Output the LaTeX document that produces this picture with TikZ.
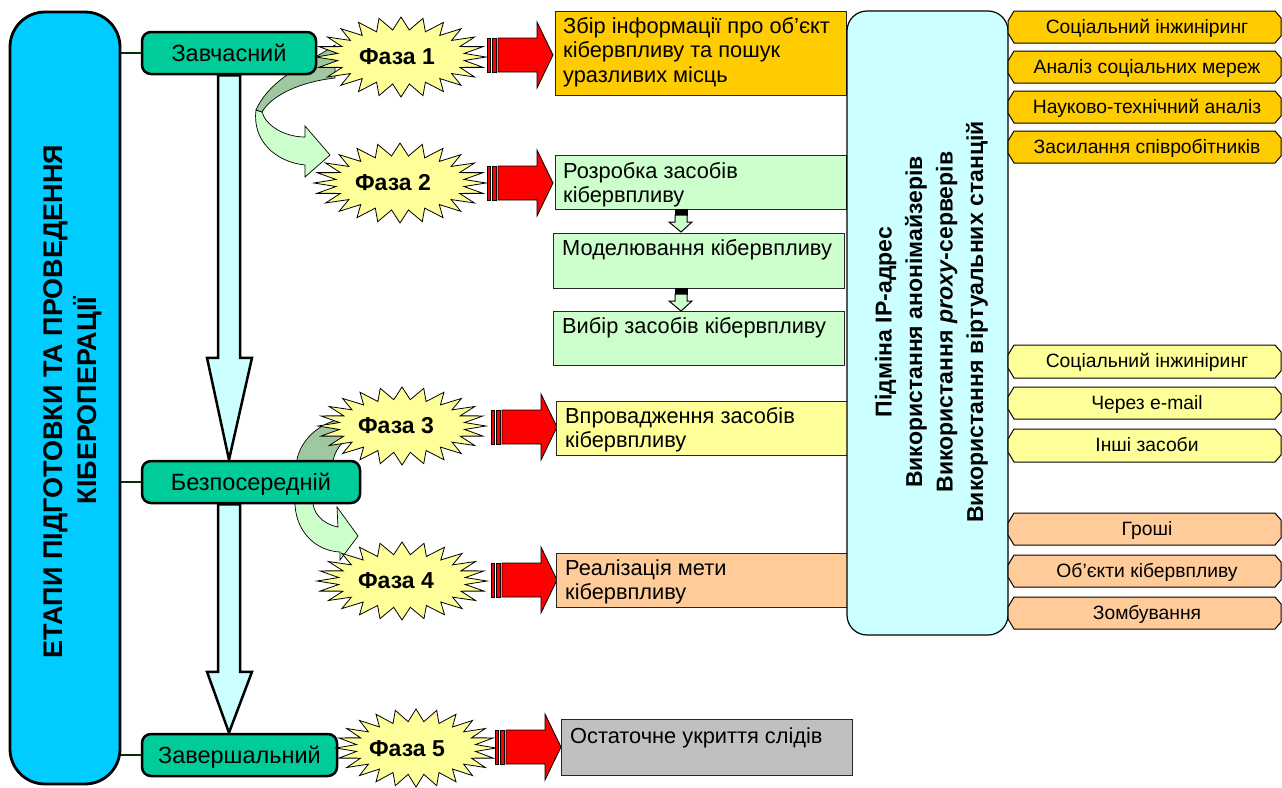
\documentclass[tikz,border=0pt]{standalone}
\usepackage{fontspec}
\setmainfont{Liberation Sans}
\usetikzlibrary{calc}
\pgfdeclarelayer{bg}
\pgfsetlayers{bg,main}
\definecolor{cyanL}{HTML}{00CCFF}
\definecolor{stageG}{HTML}{00CC99}
\definecolor{paleC}{HTML}{CCFFFF}
\definecolor{burstY}{HTML}{FFFF99}
\definecolor{boxO}{HTML}{FFCC00}
\definecolor{boxG}{HTML}{CCFFCC}
\definecolor{boxP}{HTML}{FFCC99}
\definecolor{boxGr}{HTML}{C0C0C0}
\definecolor{darkG}{HTML}{A0C8A0}
\definecolor{lineG}{HTML}{003300}
\newcommand\fsz[2]{\fontsize{#1}{#2}\selectfont}
% burst: name, cx, cy, rx, ry, text x, text y, text
\newcommand\burst[8]{%
  \path[burstshape] ({#2+#4},#3) \foreach \i in {1,...,47}{ -- ({#2+ifthenelse(isodd(\i),0.75*#4,#4)*cos(\i*7.5)},{#3+ifthenelse(isodd(\i),0.68*#5,#5)*sin(\i*7.5)}) } -- cycle;
  \node[phtxt] (#1) at (#6,#7) {#8};}
% red striped arrow: x0, cy
\newcommand\redarr[2]{%
  \path[redshape] (#1,#2-17) rectangle ({#1+3},#2+17);
  \path[redshape] ({#1+5},#2-17) rectangle ({#1+9},#2+17);
  \path[redshape] ({#1+11},#2-17) -- ({#1+50},#2-17) -- ({#1+50},#2-33) -- ({#1+66},#2) -- ({#1+50},#2+33) -- ({#1+50},#2+17) -- ({#1+11},#2+17) -- cycle;}
% box text: name, x, first baseline, text
\newcommand\btext[4]{\node[btxt,anchor=north west] (#1) at (#2,{#3-18}) {\rule{0pt}{18pt}#4};}
% side label: name, top, bottom, colour, text
\newcommand\slabel[5]{%
  \path[lbl,fill=#4] (1014,#2) -- (1275,#2) -- (1281,{#2+7}) -- (1281,{#3-7}) -- (1275,#3) -- (1014,#3) -- (1008,{#3-10}) -- (1008,{#2+10}) -- cycle;
  \node[ltxt,anchor=base] (#1) at (1147,{(#2+#3)/2+6.4}) {#5};}
% small arrow between boxes: top y
\newcommand\smallarr[1]{%
  \path[draw=black,fill=black,line width=0.6pt] (675,#1) rectangle (687,{#1+6});
  \path[sarr] (675,{#1+6}) -- (687,{#1+6}) -- (687,{#1+13}) -- (692,{#1+13}) -- (681,{#1+23}) -- (669,{#1+13}) -- (675,{#1+13}) -- cycle;}
% vertical block arrow: from, to, head length
\newcommand\vblock[3]{%
  \path[vblk] let \p1=(#1), \p2=(#2) in
  (\x1-11pt,\y1) -- (\x1+11pt,\y1) -- (\x1+11pt,\y2+#3) -- (\x1+23pt,\y2+#3) -- (\x2,\y2) -- (\x1-22pt,\y2+#3) -- (\x1-11pt,\y2+#3) -- cycle;}
\begin{document}
\begin{tikzpicture}[x=1pt,y=-1pt,
 bigbox/.style={draw=black,line width=2.8pt,fill=cyanL,rounded corners=35pt,inner sep=0pt},
 bigtxt/.style={font=\fsz{27}{32}\bfseries,inner sep=0pt},
 stage/.style={draw=black,line width=2.5pt,fill=stageG,rounded corners=9pt,minimum height=42pt,inner sep=0pt,font=\fsz{23.5}{28},text height=16.8pt,text depth=0pt},
 conn/.style={draw=lineG,line width=2pt},
 vblk/.style={draw=black,line width=2.5pt,fill=paleC,line join=miter},
 burstshape/.style={draw=black,line width=0.8pt,fill=burstY},
 phtxt/.style={font=\fsz{23}{27}\bfseries,inner sep=0pt,text height=16.5pt,text depth=0pt},
 redshape/.style={draw=black,line width=0.8pt,fill=red},
 box/.style={draw=black!85,line width=1pt,inner sep=0pt},
 btxt/.style={font=\fsz{21.8}{24.5},inner sep=0pt,align=left},
 rbox/.style={draw=black,line width=1.2pt,fill=paleC,rounded corners=20pt,inner sep=0pt},
 rtxt/.style={font=\fsz{23}{28}\bfseries,inner sep=0pt},
 lbl/.style={draw=black,line width=1pt},
 ltxt/.style={font=\fsz{19.3}{22},inner sep=0pt},
 carrL/.style={draw=black,line width=0.7pt,fill=boxG},
 carrD/.style={draw=black,line width=0.7pt,fill=darkG},
 sarr/.style={draw=black,line width=1pt,fill=boxG},
]
\useasboundingbox (0,0) rectangle (1282,787);

% left big box
\node[bigbox,minimum width=110pt,minimum height=772pt] (stages) at (65,398) {};
\node[bigtxt,rotate=90,anchor=base] (stagesT1) at (62.3,401.5) {ЕТАПИ ПІДГОТОВКИ ТА ПРОВЕДЕННЯ};
\node[bigtxt,rotate=90,anchor=base] (stagesT2) at (96.3,400.5) {КІБЕРОПЕРАЦІЇ};

% stage nodes
\node[stage,minimum width=174pt] (st1) at (229,53) {Завчасний};
\node[stage,minimum width=218pt] (st2) at (251,482) {Безпосередній};
\node[stage,minimum width=195pt] (st3) at (239.5,755) {Завершальний};

\draw[conn] (stages.east |- st1.west) -- (st1.west);
\draw[conn] (stages.east |- st2.west) -- (st2.west);
\draw[conn] (stages.east |- st3.west) -- (st3.west);

\begin{pgfonlayer}{bg}
  \coordinate (a1top) at (st1.south);
  \coordinate (a1tip) at (st1.south |- st2.north);
  \coordinate (a2top) at (st1.south |- st2.south);
  \coordinate (a2tip) at (st1.south |- st3.north);
  \vblock{a1top}{a1tip}{102pt}
  \vblock{a2top}{a2tip}{61pt}
  % curved arrow 1
  \path[carrL] (256,110) .. controls (252,140) and (275,162) .. (305,165) -- (305,177) -- (330,155) -- (305,126) -- (305,137) .. controls (285,137) and (266,126) .. (262,112) -- cycle;
  \path[carrD] (335,45) .. controls (310,62) and (270,78) .. (256,110) -- (262,112) .. controls (272,95) and (300,82) .. (335,78) -- cycle;
  % curved arrow 2
  \path[carrD] (345,418) .. controls (320,422) and (298,440) .. (296,466) -- (332,466) .. controls (334,450) and (342,440) .. (355,435) -- cycle;
  \path[carrL] (295,500) .. controls (294,530) and (315,551) .. (340,552) -- (340,560) -- (358,536) -- (337,507) -- (338,527) .. controls (322,524) and (312,512) .. (313,500) -- cycle;
\end{pgfonlayer}

% bursts
\burst{ph1}{401}{57}{85}{40}{397}{56}{Фаза 1}
\burst{ph2}{400}{183}{86}{40}{393}{182}{Фаза 2}
\burst{ph3}{402}{426}{84}{39}{396}{425}{Фаза 3}
\burst{ph4}{402}{581}{85}{39}{396}{580}{Фаза 4}
\burst{ph5}{416}{748}{80}{39}{407}{748}{Фаза 5}

% red arrows
\redarr{487}{55}
\redarr{487}{183}
\redarr{491}{427}
\redarr{491}{580}
\redarr{495}{747}

% boxes
\node[box,fill=boxO,minimum width=291pt,minimum height=84pt] (b1) at (700.5,53) {};
\node[box,fill=boxG,minimum width=291pt,minimum height=54pt] (b2) at (700.5,182) {};
\node[box,fill=boxG,minimum width=291pt,minimum height=55pt] (b3) at (698.5,260.5) {};
\node[box,fill=boxG,minimum width=291pt,minimum height=54pt] (b4) at (698.5,338) {};
\node[box,fill=burstY,minimum width=291pt,minimum height=54pt] (b5) at (701.5,428) {};
\node[box,fill=boxP,minimum width=291pt,minimum height=54pt] (b6) at (701.5,580) {};
\node[box,fill=boxGr,minimum width=291pt,minimum height=56pt] (b7) at (706.5,747) {};

\btext{t1}{563}{33}{Збір інформації про об’єкт\\кібервпливу та пошук\\уразливих місць}
\btext{t2}{563}{178}{Розробка засобів\\кібервпливу}
\btext{t3}{562}{255}{Моделювання кібервпливу}
\btext{t4}{562}{333}{Вибір засобів кібервпливу}
\btext{t5}{565}{423}{Впровадження засобів\\кібервпливу}
\btext{t6}{565}{575}{Реалізація мети\\кібервпливу}
\btext{t7}{570}{743}{Остаточне укриття слідів}

\smallarr{209}
\smallarr{288}

% right box
\node[rbox,minimum width=161pt,minimum height=624pt] (rb) at (927.5,323) {};
\node[rtxt,rotate=90,anchor=base] (rbt1) at (891.5,322) {Підміна IP-адрес};
\node[rtxt,rotate=90,anchor=base] (rbt2) at (922,322) {Використання анонімайзерів};
\node[rtxt,rotate=90,anchor=base] (rbt3) at (952.5,322) {Використання \textit{proxy}-серверів};
\node[rtxt,rotate=90,anchor=base] (rbt4) at (983,322) {Використання віртуальних станцій};

% side labels
\slabel{l1}{11}{43}{boxO}{Соціальний інжиніринг}
\slabel{l2}{51}{83}{boxO}{Аналіз соціальних мереж}
\slabel{l3}{91}{123}{boxO}{Науково-технічний аналіз}
\slabel{l4}{131}{163}{boxO}{Засилання співробітників}
\slabel{l5}{345}{378}{burstY}{Соціальний інжиніринг}
\slabel{l6}{387}{419}{burstY}{Через e-mail}
\slabel{l7}{429}{462}{burstY}{Інші засоби}
\slabel{l8}{513}{545}{boxP}{Гроші}
\slabel{l9}{555}{587}{boxP}{Об’єкти кібервпливу}
\slabel{l10}{597}{629}{boxP}{Зомбування}
\end{tikzpicture}
\end{document}
